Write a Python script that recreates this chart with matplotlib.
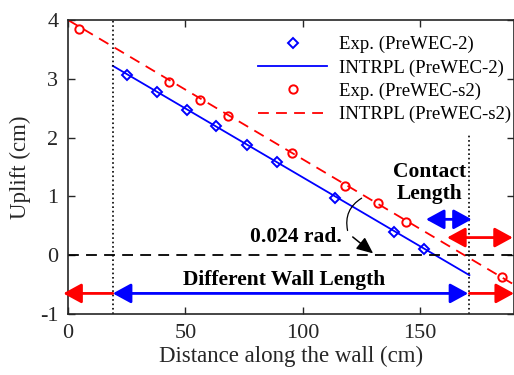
import numpy as np
import matplotlib
matplotlib.use('Agg')
from matplotlib import pyplot as plt

exp2_x = [25.1, 37.9, 50.6, 63.0, 76.2, 88.9, 113.6, 139.0, 151.5]
exp2_y = [3.07, 2.78, 2.47, 2.19, 1.88, 1.58, 0.98, 0.39, 0.10]
fit2_x = [19.1, 171.0]
fit2_y = [3.22, -0.34]

exps2_x = [4.7, 43.0, 56.2, 68.1, 95.3, 117.9, 132.0, 143.8, 184.7]
exps2_y = [3.85, 2.95, 2.64, 2.36, 1.73, 1.17, 0.88, 0.56, -0.37]
fits2_x = [0.0, 190.0]
fits2_y = [4.0, -0.5]

wall_start = 19.1
wall_end = 171.0
contact_start = 152.5
contact_s2_start = 161.5

plt.rcParams['font.family'] = ['Liberation Serif', 'DejaVu Serif']
plt.rcParams['axes.unicode_minus'] = False

fig = plt.figure(figsize=(5.14, 3.75), dpi=100)
ax = fig.add_axes([68/514, 61/375, 446/514, 294/375])

ax.plot(exp2_x, exp2_y, 'bD', ms=5.5, mfc='none', mew=1.4, label='Exp. (PreWEC-2)')
ax.plot(fit2_x, fit2_y, 'b-', lw=1.3, label='INTRPL (PreWEC-2)')
ax.plot(exps2_x, exps2_y, 'ro', ms=6, mfc='none', mew=1.4, label='Exp. (PreWEC-s2)')
ax.plot(fits2_x, fits2_y, 'r--', lw=1.3, dashes=(6, 4), label='INTRPL (PreWEC-s2)')

ax.axhline(0, color='k', ls='--', lw=1.3, dashes=(6, 4))
ax.axvline(wall_start, color='k', ls=':', lw=1.2)
ax.plot([wall_end, wall_end], [-1, 2.05], color='k', ls=':', lw=1.2)

def harrow(x0, x1, y, color, style):
    ax.annotate('', xy=(x1, y), xytext=(x0, y), annotation_clip=False,
                arrowprops=dict(arrowstyle=style + ',head_length=0.55,head_width=0.3',
                                color=color, lw=2, mutation_scale=20,
                                shrinkA=0, shrinkB=0))

harrow(wall_start, -2, -0.65, 'r', '-|>')
harrow(wall_start, wall_end - 0.5, -0.65, 'b', '<|-|>')
harrow(wall_end, 190, -0.65, 'r', '-|>')
harrow(contact_start, wall_end + 1, 0.61, 'b', '<|-|>')
harrow(contact_s2_start, 189.5, 0.30, 'r', '<|-|>')

ax.text(92, -0.42, 'Different Wall Length', fontsize=15.5, fontweight='bold',
        ha='center', va='center')
ax.text(154, 1.23, 'Contact\nLength', fontsize=15.5, fontweight='bold',
        ha='center', va='center', linespacing=1.15)
ax.text(97, 0.31, '0.024 rad.', fontsize=15.5, fontweight='bold',
        ha='center', va='center')

ax.annotate('', xy=(125.1, 0.97), xytext=(119.1, 0.42),
            arrowprops=dict(arrowstyle='-', color='k', lw=0.9,
                            connectionstyle='arc3,rad=-0.35', shrinkA=0, shrinkB=0))
ax.annotate('', xy=(130.0, 0.03), xytext=(121.3, 0.31),
            arrowprops=dict(arrowstyle='-|>,head_length=0.5,head_width=0.22',
                            color='k', lw=1.1, mutation_scale=20,
                            shrinkA=0, shrinkB=0))

ax.set_xlim(0, 190)
ax.set_ylim(-1, 4)
ax.set_xticks([0, 50, 100, 150])
ax.set_yticks([-1, 0, 1, 2, 3, 4])
ax.tick_params(direction='in', top=True, right=True, labelsize=16, length=5,
               width=1, colors='#262626', pad=7)
for s in ax.spines.values():
    s.set_linewidth(1.2)
    s.set_color('#262626')

ax.set_xlabel('Distance along the wall (cm)', fontsize=16.5, color='#262626', labelpad=2)
ax.set_ylabel('Uplift (cm)', fontsize=16.5, color='#262626', labelpad=6)

ax.legend(loc='upper right', bbox_to_anchor=(1.022, 0.99), frameon=False,
          fontsize=13.5, handlelength=3.7, handletextpad=0.6,
          labelspacing=0.32, borderaxespad=0.3)

fig.savefig('out.png', dpi=100)
